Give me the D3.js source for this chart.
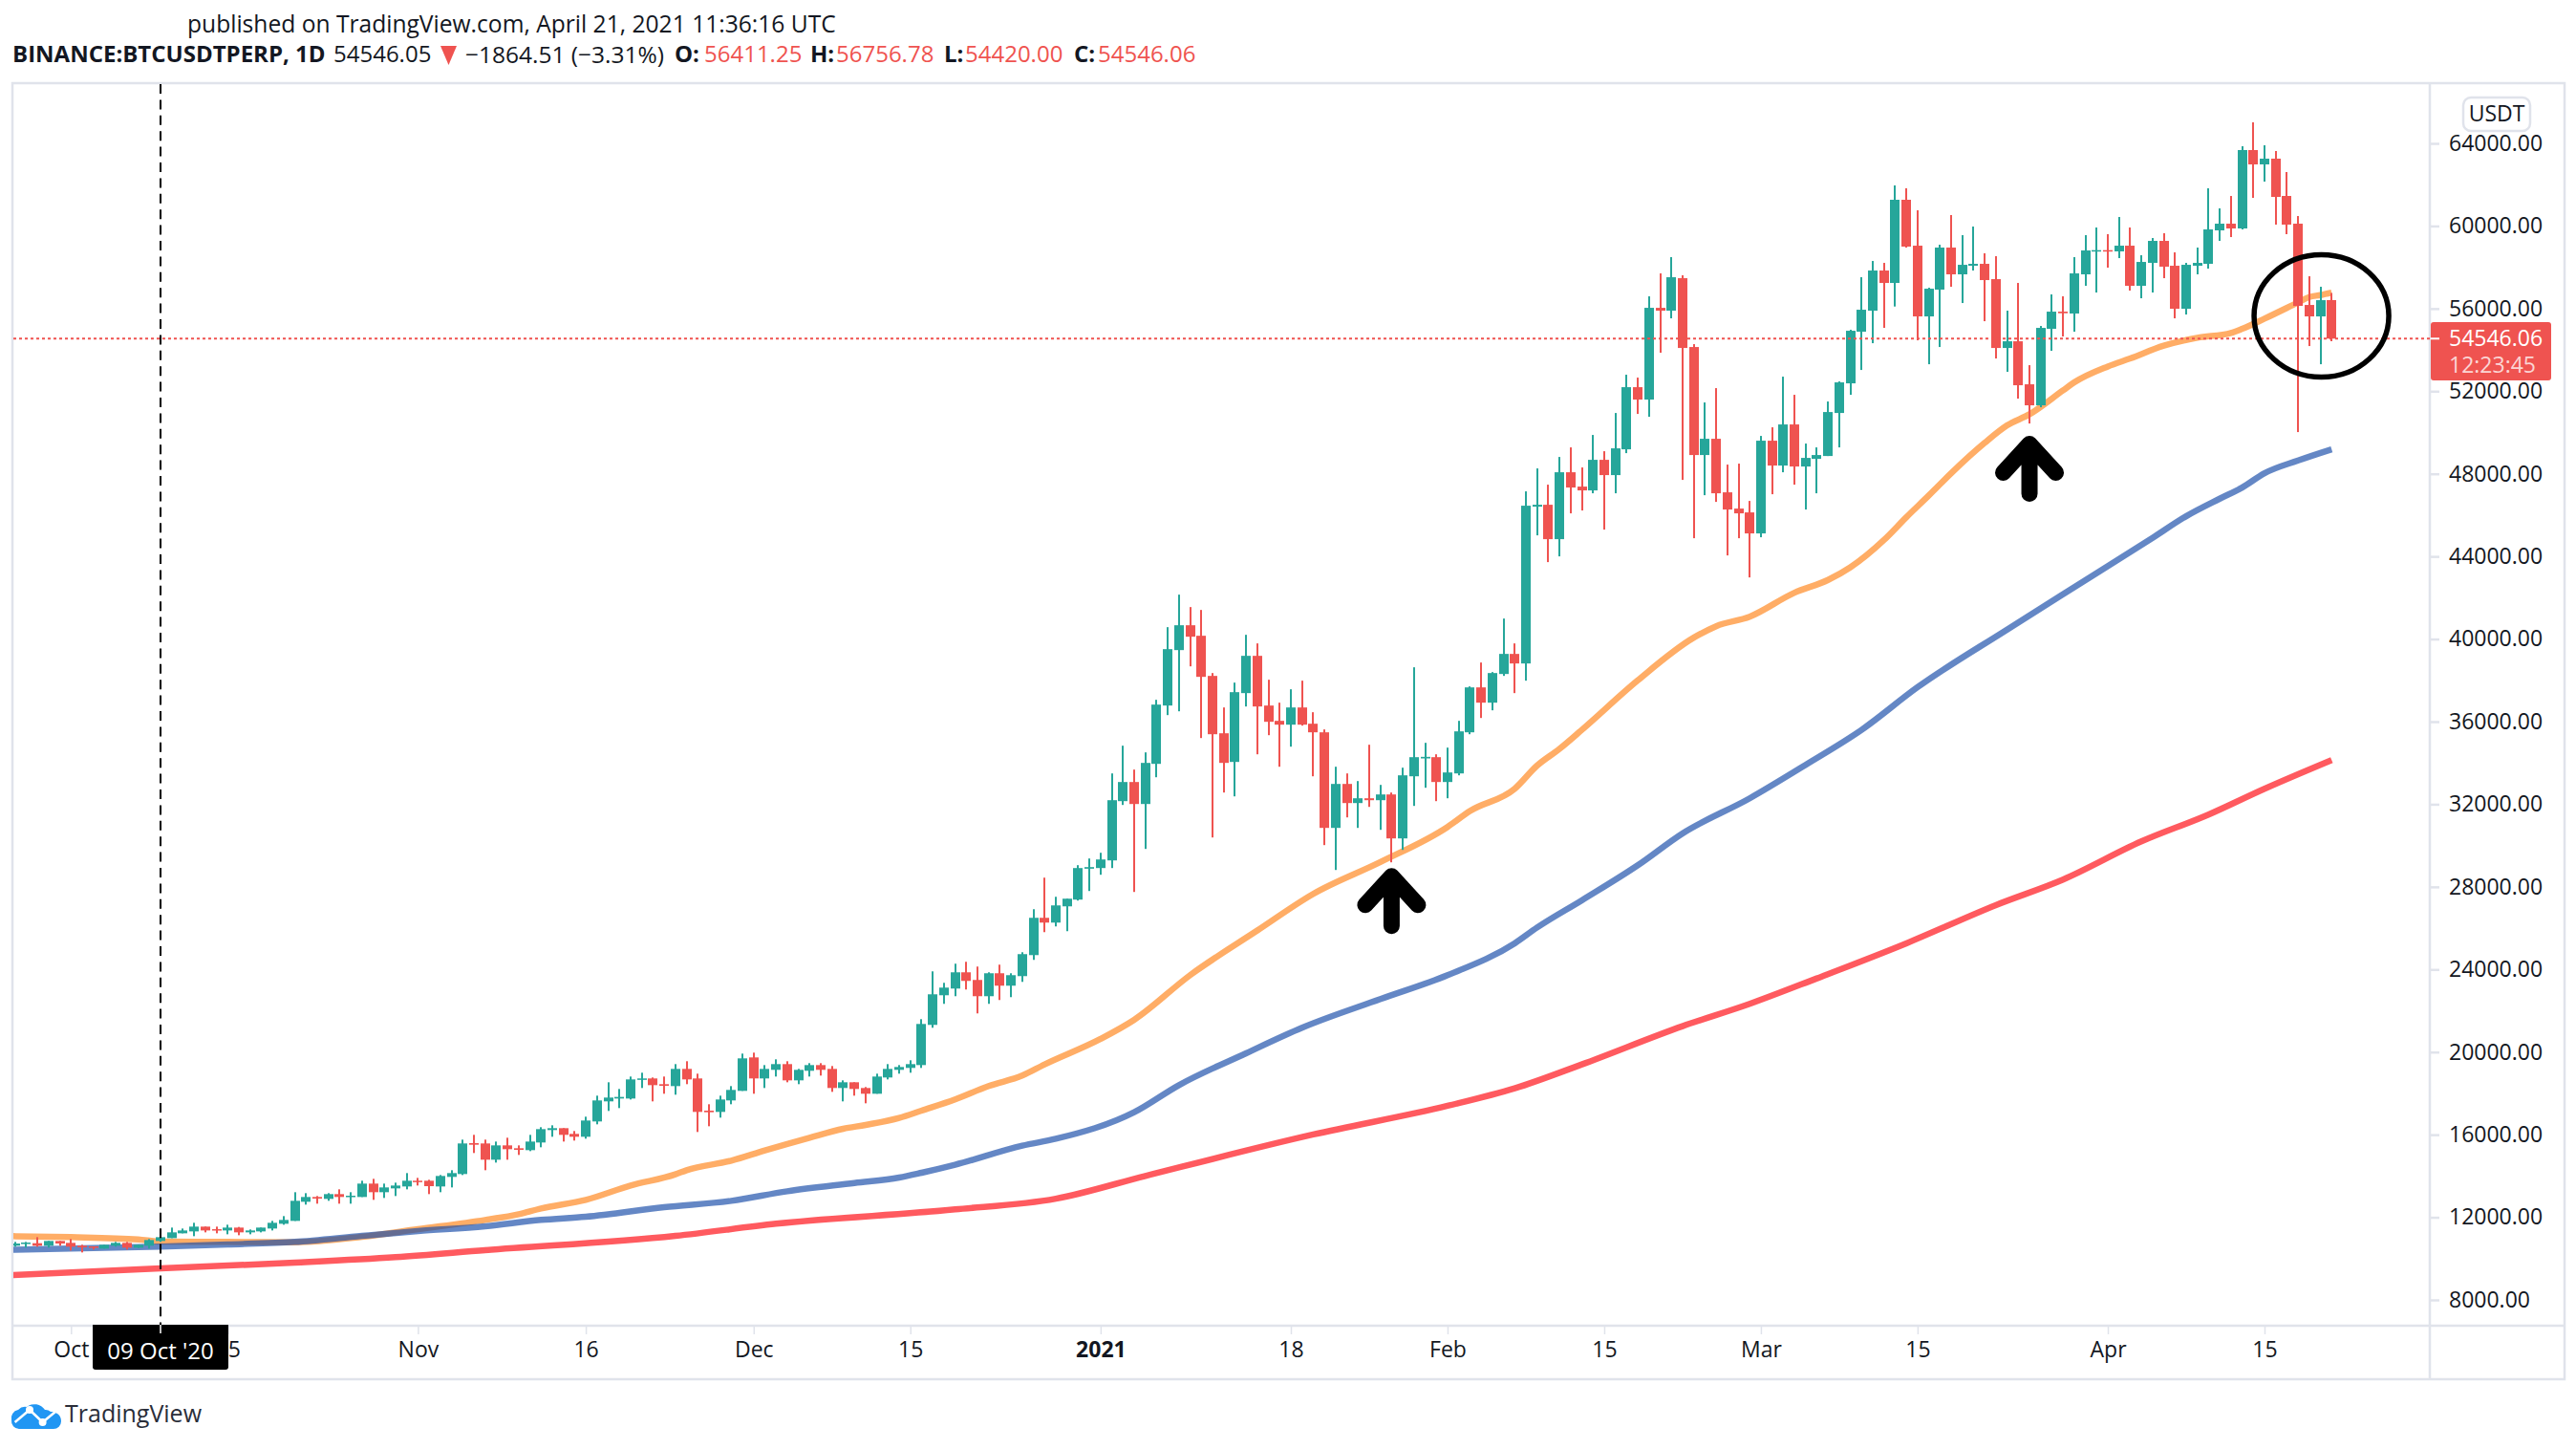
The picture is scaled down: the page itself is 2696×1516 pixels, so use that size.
<!DOCTYPE html>
<html>
<head>
<meta charset="utf-8">
<title>BTCUSDTPERP</title>
<script src="https://cdn.jsdelivr.net/npm/d3@7"></script>
<style>
    html, body { margin: 0; padding: 0; background: #fff; }
    svg { display: block; }
    text { font-family: "Open Sans", "Noto Sans", sans-serif; fill: #131722; }
</style>
</head>
<body>
<svg id="chart" width="2696" height="1516"></svg>
<script>
// one candle per day, 26 Sep 2020 - 21 Apr 2021, lines are split by month
const firstDay = Date.UTC(2020, 8, 26);
const lastDay = Date.UTC(2021, 3, 21);

const opens = [
    10622,10715,10745,10622,10853,
    10761,10622,10591,10483,10622,10761,10529,10622,10853,10992,11224,11316,11548,11424,11362,11501,11270,11316,11455,11686,11825,12751,12983,12890,13122,12983,12983,13631,13214,13399,13492,
    13770,13770,13492,13955,14094,15590,15575,14788,15482,15343,15251,15621,16223,16315,16038,15899,16640,17612,17750,17750,18661,18723,18445,18352,19185,18723,17164,17102,17658,18121,
    19741,18723,19139,19417,18630,19093,19370,19185,18260,18537,18260,17982,18769,19139,19232,19370,21316,22751,23075,23862,23492,22705,23816,23214,23677,24695,26501,26269,27056,27382,28879,
    28910,29280,32150,33076,32011,33955,36779,39464,40667,40158,38214,35436,34048,37381,39186,36779,36038,35853,36686,35899,35483,30854,32983,32057,32289,32196,32474,30345,33353,34218,34279,
    33076,33492,35483,37658,36918,38307,39279,38816,46409,46501,44835,48075,47381,47196,48677,47937,49186,52195,51593,56037,55898,57472,54139,48909,49696,47103,46316,46131,
    45113,49603,48399,50390,48353,48723,48862,50945,52380,54880,55898,57843,57241,61269,59046,55621,56917,58954,57658,58074,58167,57426,54093,54417,52334,51316,55019,55852,55760,57658,58769,
    58830,58769,59046,57102,58213,59278,58074,55991,58074,58167,59787,60111,59880,63676,62982,63260,61454,60111,56176,55621,56411.25
];
const highs = [
    10807,10807,11038,10853,10853,
    10946,10668,10591,10668,10807,10807,10668,10946,11085,11501,11455,11733,11548,11548,11640,11532,11409,11501,11825,12057,13214,13168,13029,13168,13353,13214,13770,13862,13631,13677,14140,
    13908,13816,14047,14279,15760,15992,15760,15667,15852,15482,15991,16362,16454,16315,16177,16871,17889,18537,18213,18815,19000,18769,18815,19417,19556,18954,17473,17889,18352,19926,
    19972,19370,19648,19556,19185,19463,19463,19324,18630,18537,18306,18954,19417,19370,19602,21593,23908,23353,24279,24371,24140,23862,24232,23816,24834,26917,28445,27519,27426,29049,29373,
    29650,33492,34835,33678,34511,37057,40575,42149,41547,41408,38353,36686,37890,40204,39788,38029,36918,37566,37983,36455,35622,33816,33492,33122,34881,32937,32567,33770,38631,34974,34418,
    34742,36038,37705,38862,38399,40991,39788,47150,48261,47474,48816,49279,48307,49881,49094,50945,52797,52658,56593,57704,58491,57611,54278,51455,52149,48446,48492,46687,
    49834,50251,52704,51825,49464,49279,51501,52473,54973,57519,58305,58213,61964,61825,60759,57009,59093,60528,59555,59972,58676,58537,55899,57241,53260,55158,56686,56593,58491,59555,59926,
    59602,60435,59926,58583,59417,59648,58722,58213,58954,61824,60852,61453,63861,65019,63908,63630,62612,60481,57565,57056,56756.78
];
const lows = [
    10576,10529,10576,10529,10622,
    10390,10298,10437,10483,10576,10437,10514,10483,10807,10992,11224,11085,11270,11224,11177,11131,11177,11270,11362,11640,11825,12613,12659,12798,12659,12659,12983,12844,12936,13029,13353,
    13538,13122,13214,13446,14047,15112,14279,14649,14788,15019,15204,15390,15899,15667,15714,15806,16501,17149,17288,17704,18260,17612,17982,17936,18445,16130,16408,16825,17473,18121,
    17982,18260,18815,18537,18445,18815,18861,18074,17612,17889,17519,17982,18676,18954,19000,19232,21177,22335,22705,23029,21872,22335,22520,22659,23399,24464,25806,26084,25853,27336,27799,
    28586,28910,31965,27752,29836,33307,36316,36501,38677,35205,30391,32567,32381,36733,34418,35344,33816,34788,35807,33353,30021,28817,31363,30854,31872,30761,29188,29789,31919,32798,32150,
    32289,33400,35390,36177,36548,38214,37381,37983,45020,43724,44002,46085,46224,47057,45298,47057,49001,50899,50760,53862,55528,47705,44881,46964,46640,44048,44881,42983,
    44928,47011,48075,47474,46270,47057,48862,49279,51825,53028,54324,55065,56100,58955,54464,53306,54140,57056,56269,57843,55389,53584,52936,51640,50436,51223,53954,54649,54880,57102,56778,
    57982,58444,56871,56500,56778,57472,55528,55713,57658,57935,59278,59463,59834,61362,62149,60066,59603,50020,54186,53306,54420
];
const closes = [
    10730,10776,10622,10853,10730,
    10576,10545,10529,10668,10761,10529,10668,10899,11038,11270,11362,11548,11362,11362,11501,11270,11362,11501,11733,11872,12798,12983,12906,13122,12983,13044,13631,13214,13446,13538,13770,
    13723,13507,14001,14140,15575,15513,14788,15482,15297,15266,15667,16269,16315,15991,15899,16686,17658,17797,17828,18676,18723,18398,18368,19185,18676,17102,17087,17704,18167,19695,
    18723,19185,19417,18630,19139,19370,19139,18260,18537,18213,17982,18815,19185,19278,19417,21361,22797,23121,23862,23446,22705,23816,23214,23723,24742,26501,26269,27102,27426,28910,28956,
    29326,32196,33076,32011,34002,36825,39510,40667,40112,38168,35390,34002,37427,39186,36733,35992,35853,36686,35853,35483,30854,32983,32057,32289,32196,32474,30345,33400,34279,34295,33076,
    33539,35529,37658,36918,38353,39279,38816,46455,46501,44835,48075,47335,47196,48677,47937,49233,52195,51593,56037,55898,57518,54093,48909,49696,47057,46270,46085,45113,
    49603,48399,50390,48353,48770,48909,50991,52427,54926,55945,57843,57241,61269,59001,55621,56963,58954,57658,58120,58167,57380,54093,54417,52288,51316,55065,55852,55775,57704,58815,58830,
    58769,59046,57102,58259,59278,58028,55991,58120,58213,59833,60111,59879,63676,62982,63260,61408,60066,56130,55621,56408,54546.06
];

// moving averages at these dates
const orangeDates = ["2020-09-25","2020-10-01","2020-10-07","2020-10-09","2020-10-15","2020-10-21","2020-10-27","2020-11-01","2020-11-07","2020-11-10","2020-11-12","2020-11-16","2020-11-20","2020-11-24","2020-11-25","2020-11-29","2020-12-02","2020-12-06","2020-12-09","2020-12-11","2020-12-14","2020-12-16","2020-12-19","2020-12-22","2020-12-25","2020-12-27","2021-01-01","2021-01-04","2021-01-09","2021-01-15","2021-01-20","2021-01-26","2021-02-01","2021-02-03","2021-02-07","2021-02-09","2021-02-11","2021-02-13","2021-02-18","2021-02-23","2021-02-25","2021-02-28","2021-03-04","2021-03-07","2021-03-09","2021-03-12","2021-03-14","2021-03-16","2021-03-18","2021-03-21","2021-03-23","2021-03-25","2021-03-28","2021-03-29","2021-04-01","2021-04-03","2021-04-06","2021-04-09","2021-04-12","2021-04-13","2021-04-15","2021-04-18","2021-04-19","2021-04-20","2021-04-21"];
const orangeValues = [11090,11039,10930,10823,10807,10792,11054,11424,11872,12149,12427,12844,13538,14078,14279,14742,15235,15852,16284,16470,16809,17164,17706,18354,18863,19403,20638,21563,23724,25884,27658,29201,30899,31670,32750,33870,34679,35600,38000,40065,40620,41083,42243,42860,43477,44800,45900,46950,48029,49500,50344,50884,52041,52427,53198,53584,54201,54587,54820,55019,55513,56300,56562,56655,56778];

const blueDates = ["2020-09-25","2020-10-09","2020-10-15","2020-10-21","2020-10-27","2020-11-01","2020-11-07","2020-11-12","2020-11-16","2020-11-23","2020-11-29","2020-12-04","2020-12-10","2020-12-14","2020-12-16","2020-12-19","2020-12-25","2020-12-28","2021-01-04","2021-01-08","2021-01-14","2021-01-19","2021-01-26","2021-02-01","2021-02-07","2021-02-09","2021-02-13","2021-02-18","2021-02-22","2021-02-28","2021-03-05","2021-03-10","2021-03-15","2021-03-23","2021-03-30","2021-04-05","2021-04-08","2021-04-11","2021-04-13","2021-04-15","2021-04-18","2021-04-21"];
const blueValues = [10421,10576,10684,10807,11100,11330,11563,11872,12026,12489,12797,13260,13661,13924,14155,14543,15468,15800,17089,18400,19943,21177,22566,23724,25267,26030,27350,29047,30590,32287,33907,35600,37667,40458,42850,44900,45947,46795,47335,48029,48646,49187];

const redDates = ["2020-09-25","2020-10-09","2020-10-21","2020-10-30","2020-11-07","2020-11-24","2020-12-03","2020-12-19","2020-12-28","2021-01-05","2021-01-20","2021-02-01","2021-02-07","2021-02-13","2021-02-22","2021-02-28","2021-03-06","2021-03-14","2021-03-22","2021-03-28","2021-04-04","2021-04-10","2021-04-15","2021-04-21"];
const redValues = [9187,9526,9804,10066,10406,11097,11686,12381,12900,14003,16009,17397,18246,19403,21255,22335,23569,25267,27118,28353,30200,31500,32750,34139];

const priceTicks = [8000,12000,16000,20000,24000,28000,32000,36000,40000,44000,48000,52000,56000,60000,64000];
const timeTickDates = ["2020-10-01","2020-10-15","2020-11-01","2020-11-16","2020-12-01","2020-12-15","2021-01-01","2021-01-18","2021-02-01","2021-02-15","2021-03-01","2021-03-15","2021-04-01","2021-04-15"];
const timeTickLabels = ["Oct","15","Nov","16","Dec","15","2021","18","Feb","15","Mar","15","Apr","15"];

const arrowDates = ["2021-01-27","2021-03-25"];
const arrowPrices = [28907,49833];
const circleDate = "2021-04-20";
const circlePrice = 55644;
const crosshairDate = "2020-10-09";

const gridColor = "#e0e3eb", upColor = "#26a69a", downColor = "#ef5350";

const days = d3.utcDay.range(firstDay, lastDay + 1);
const parseDay = d3.utcParse("%Y-%m-%d");

const x = d3.scaleUtc()
    .domain([parseDay("2020-10-09"), parseDay("2021-04-15")])
    .range([168, 2370]);
const y = d3.scaleLinear()
    .domain([8000, 64000])
    .range([1360, 150]);

const svg = d3.select("#chart");

svg.append("clipPath").attr("id", "pane")
    .append("rect").attr("x", 14).attr("y", 88).attr("width", 2529).attr("height", 1298);

drawFrame();
drawAxes();

const pane = svg.append("g").attr("clip-path", "url(#pane)");
drawAverage(pane, orangeDates, orangeValues, "#ffad66", 1);
drawAverage(pane, redDates, redValues, "#ff5a5f", 1);
drawAverage(pane, blueDates, blueValues, "#184ca9", 0.67);
drawCandles(pane);
drawOverlays(pane);
drawLabels();

function drawFrame() {
    svg.append("rect")
        .attr("x", 13).attr("y", 87).attr("width", 2671).attr("height", 1356)
        .attr("fill", "none").attr("stroke", gridColor).attr("stroke-width", 2.5);
    svg.append("line").attr("x1", 13).attr("x2", 2684).attr("y1", 1387).attr("y2", 1387)
        .attr("stroke", gridColor).attr("stroke-width", 2.5);
    svg.append("line").attr("x1", 2543).attr("x2", 2543).attr("y1", 87).attr("y2", 1443)
        .attr("stroke", gridColor).attr("stroke-width", 2.5);
}

function drawAxes() {
    const right = svg.append("g")
        .attr("transform", "translate(2544,0)")
        .call(d3.axisRight(y).tickValues(priceTicks).tickFormat(d3.format(".2f")).tickSize(9).tickPadding(10));
    right.select(".domain").remove();
    right.selectAll("line").attr("stroke", gridColor).attr("stroke-width", 2.5);
    right.selectAll("text").attr("font-size", 23).attr("font-family", null);

    const bottom = svg.append("g")
        .attr("transform", "translate(0,1388)")
        .call(d3.axisBottom(x)
            .tickValues(timeTickDates.map(parseDay))
            .tickFormat((d, i) => timeTickLabels[i])
            .tickSize(8).tickPadding(8));
    bottom.select(".domain").remove();
    bottom.selectAll("line").attr("stroke", gridColor).attr("stroke-width", 1.5);
    bottom.selectAll("text")
        .attr("font-size", 23).attr("font-family", null)
        .attr("font-weight", (d, i) => timeTickLabels[i] == "2021" ? "bold" : null);
}

function drawAverage(parent, dates, values, color, opacity) {
    const line = d3.line()
        .curve(d3.curveMonotoneX)
        .x(d => x(parseDay(d.date)))
        .y(d => y(d.value));

    parent.append("path")
        .attr("d", line(dates.map((d, i) => ({ date: d, value: values[i] }))))
        .attr("fill", "none")
        .attr("stroke", color)
        .attr("stroke-opacity", opacity)
        .attr("stroke-width", 6.5);
}

function drawCandles(parent) {
    const candle = parent.selectAll("g.candle")
        .data(days)
        .join("g")
        .attr("class", "candle")
        .attr("fill", (d, i) => closes[i] >= opens[i] ? upColor : downColor);

    candle.append("rect") // wick
        .attr("x", d => Math.round(x(d)) - 1)
        .attr("width", 2)
        .attr("y", (d, i) => y(highs[i]))
        .attr("height", (d, i) => y(lows[i]) - y(highs[i]));

    candle.append("rect") // body
        .attr("x", d => Math.round(x(d)) - 5)
        .attr("width", 10)
        .attr("y", (d, i) => y(Math.max(opens[i], closes[i])))
        .attr("height", (d, i) => Math.max(1.5, Math.abs(y(opens[i]) - y(closes[i]))));
}

function drawOverlays(parent) {
    const lastPrice = closes[closes.length - 1];

    parent.append("line")
        .attr("x1", 14).attr("x2", 2543)
        .attr("y1", y(lastPrice)).attr("y2", y(lastPrice))
        .attr("stroke", downColor).attr("stroke-width", 2).attr("stroke-dasharray", "3 3");

    parent.append("line")
        .attr("x1", x(parseDay(crosshairDate))).attr("x2", x(parseDay(crosshairDate)))
        .attr("y1", 88).attr("y2", 1386)
        .attr("stroke", "#000").attr("stroke-width", 2).attr("stroke-dasharray", "10 6.4");

    arrowDates.forEach(function(date, i) {
        const cx = x(parseDay(date)), top = y(arrowPrices[i]);
        parent.append("path")
            .attr("d", `M${cx - 27.5},${top + 38.5}L${cx},${top + 8.5}L${cx + 27.5},${top + 38.5}M${cx},${top + 8.5}V${top + 60.5}`)
            .attr("fill", "none").attr("stroke", "#000").attr("stroke-width", 17)
            .attr("stroke-linecap", "round").attr("stroke-linejoin", "round");
    });

    parent.append("ellipse")
        .attr("cx", x(parseDay(circleDate)) + 1).attr("cy", y(circlePrice))
        .attr("rx", 70.5).attr("ry", 64)
        .attr("fill", "none").attr("stroke", "#000").attr("stroke-width", 5.5);
}

function addText(px, py, content, size, color, weight, anchor) {
    return svg.append("text")
        .attr("x", px).attr("y", py).attr("dy", "0.35em")
        .attr("font-size", size)
        .attr("font-weight", weight || null)
        .attr("text-anchor", anchor || "start")
        .style("fill", color || null)
        .text(content);
}

function drawLabels() {
    const lastPrice = closes[closes.length - 1];
    const xCross = x(parseDay(crosshairDate));

    // header
    addText(196, 25, "published on TradingView.com, April 21, 2021 11:36:16 UTC", 24.6);
    addText(13, 57, "BINANCE:BTCUSDTPERP, 1D", 24, null, "bold");
    addText(349, 57, "54546.05", 24);
    svg.append("path").attr("d", "M461,48H478L469.5,68Z").attr("fill", downColor);
    addText(487, 57, "−1864.51 (−3.31%)", 24.5);
    addText(706, 57, "O:", 24, null, "bold");
    addText(737, 57, d3.format(".2f")(opens[opens.length - 1]), 24, downColor);
    addText(848, 57, "H:", 24, null, "bold");
    addText(875, 57, d3.format(".2f")(highs[highs.length - 1]), 24, downColor);
    addText(988, 57, "L:", 24, null, "bold");
    addText(1010, 57, d3.format(".2f")(lows[lows.length - 1]), 24, downColor);
    addText(1124, 57, "C:", 24, null, "bold");
    addText(1149, 57, d3.format(".2f")(lastPrice), 24, downColor);

    // currency box
    svg.append("rect").attr("x", 2578).attr("y", 102).attr("width", 70).attr("height", 35).attr("rx", 8)
        .attr("fill", "#fff").attr("stroke", gridColor).attr("stroke-width", 2.5);
    addText(2613, 119, "USDT", 23, null, null, "middle");

    // last price tag
    svg.append("rect").attr("x", 2544).attr("y", 337).attr("width", 126).attr("height", 61).attr("rx", 3)
        .attr("fill", downColor);
    svg.append("line").attr("x1", 2544).attr("x2", 2553).attr("y1", y(lastPrice)).attr("y2", y(lastPrice))
        .attr("stroke", "#fff").attr("stroke-width", 2);
    addText(2563, 354, d3.format(".2f")(lastPrice), 23, "#fff");
    addText(2563, 382, "12:23:45", 23, "#fbd5d4");

    // crosshair date
    svg.append("path").attr("d", "M97,1386H239V1430a3,3 0 0 1 -3,3H100a3,3 0 0 1 -3,-3Z").attr("fill", "#000");
    svg.append("line").attr("x1", xCross).attr("x2", xCross).attr("y1", 1386).attr("y2", 1395)
        .attr("stroke", "#fff").attr("stroke-width", 1.5);
    addText(xCross, 1414, "09 Oct '20", 24, "#fff", null, "middle");

    // logo
    const logo = svg.append("g");
    logo.append("path")
        .attr("d", "M12,1486a9,9 0 0 1 7,-11a10,10 0 0 1 9,-3a13,13 0 0 1 19,3a8,8 0 0 1 6,2a10,10 0 0 1 11,10a8,8 0 0 1 -8,8H20a8,8 0 0 1 -8,-9Z")
        .attr("fill", "#2196f3");
    logo.append("path")
        .attr("d", "M15.6,1488L31,1475L44.6,1488L58,1477")
        .attr("fill", "none").attr("stroke", "#fff").attr("stroke-width", 2.5);
    logo.append("circle").attr("cx", 31).attr("cy", 1475).attr("r", 4).attr("fill", "#fff");
    logo.append("circle").attr("cx", 44.6).attr("cy", 1488).attr("r", 4).attr("fill", "#fff");
    addText(68, 1479, "TradingView", 25, "#2a2e39");
}
</script>
</body>
</html>
